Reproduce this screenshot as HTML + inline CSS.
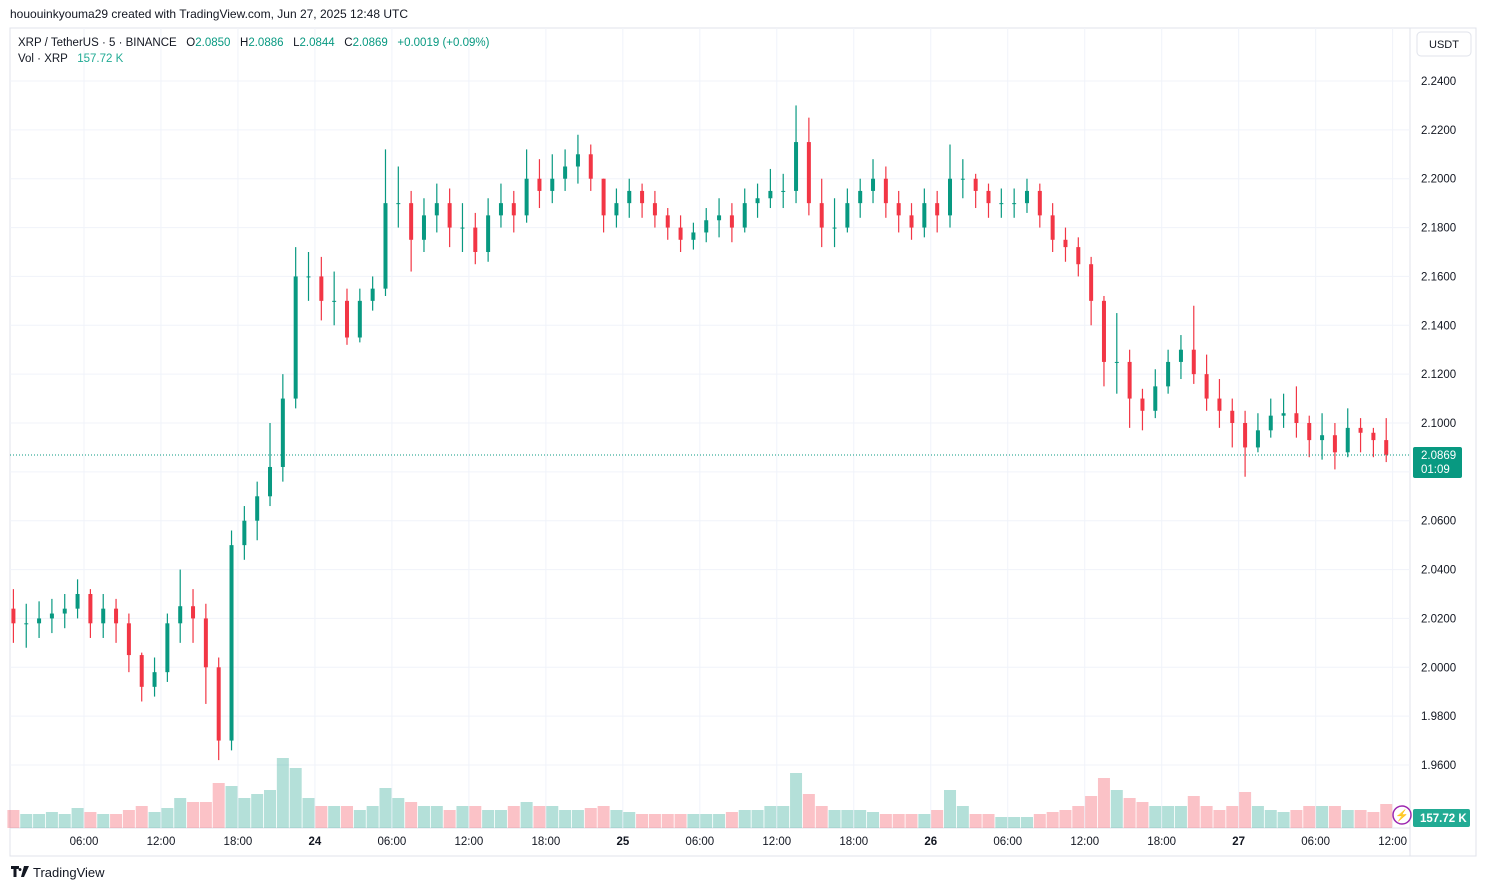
<!DOCTYPE html>
<html><head><meta charset="utf-8">
<style>
body{margin:0;background:#fff;width:1486px;height:890px;overflow:hidden;font-family:"Liberation Sans",sans-serif;}
svg text{font-family:"Liberation Sans",sans-serif;white-space:pre;}
</style></head>
<body>
<svg id="chart" width="1486" height="890" xmlns="http://www.w3.org/2000/svg">
<text x="10" y="18" font-size="12" fill="#131722">hououinkyouma29 created with TradingView.com, Jun 27, 2025 12:48 UTC</text>
<rect x="10" y="28" width="1466" height="828" fill="none" stroke="#e0e3eb"/>
<line x1="1410" y1="28" x2="1410" y2="856" stroke="#e0e3eb"/>
<line x1="10" y1="828" x2="1410" y2="828" stroke="#e0e3eb"/>
<g id="grid"></g><g id="vol"></g><g id="candles"></g><g id="axes"></g>
<text x="18" y="46" font-size="11.5" fill="#131722" xml:space="preserve">XRP / TetherUS · 5 · BINANCE   O<tspan fill="#089981">2.0850</tspan>   H<tspan fill="#089981">2.0886</tspan>   L<tspan fill="#089981">2.0844</tspan>   C<tspan fill="#089981">2.0869</tspan>   <tspan fill="#089981">+0.0019 (+0.09%)</tspan></text>
<text x="18" y="62" font-size="11.5" fill="#131722" xml:space="preserve">Vol · XRP   <tspan fill="#22ab94">157.72 K</tspan></text>
<rect x="1417" y="32" width="54" height="24" rx="4" fill="#fff" stroke="#e0e3eb"/>
<text x="1444" y="48" font-size="11" text-anchor="middle" fill="#131722">USDT</text>
<g>
<path d="M11 866h8v3h-2.5v8h-3v-8H11z M20 868a1.5 1.5 0 1 0 0.01 0z M24 866h5l-5 11h-3z" fill="#131722"/>
</g>
<text x="33" y="877" font-size="13" fill="#131722">TradingView</text>
</svg>
<script>
const openStart = 2.024;
const closes=[2.018,2.018,2.020,2.022,2.024,2.030,2.018,2.024,2.018,2.005,1.992,1.998,2.018,2.025,2.020,2.000,1.970,2.050,2.060,2.070,2.082,2.110,2.160,2.160,2.150,2.150,2.135,2.150,2.155,2.190,2.190,2.175,2.185,2.190,2.180,2.180,2.170,2.185,2.190,2.185,2.200,2.195,2.200,2.205,2.210,2.200,2.185,2.190,2.195,2.190,2.185,2.180,2.175,2.178,2.183,2.185,2.180,2.190,2.192,2.195,2.195,2.215,2.190,2.180,2.180,2.190,2.195,2.200,2.190,2.185,2.180,2.190,2.185,2.200,2.200,2.195,2.190,2.190,2.190,2.195,2.185,2.175,2.172,2.165,2.150,2.125,2.125,2.110,2.105,2.115,2.125,2.130,2.120,2.110,2.105,2.100,2.090,2.097,2.103,2.104,2.100,2.093,2.095,2.088,2.098,2.096,2.093,2.087];
const highs=[2.032,2.026,2.027,2.028,2.030,2.036,2.032,2.030,2.028,2.022,2.006,2.004,2.022,2.040,2.032,2.026,2.004,2.056,2.066,2.076,2.100,2.120,2.172,2.170,2.168,2.162,2.155,2.155,2.160,2.212,2.205,2.195,2.192,2.198,2.196,2.190,2.186,2.192,2.198,2.195,2.212,2.208,2.210,2.212,2.218,2.214,2.200,2.196,2.200,2.198,2.195,2.188,2.185,2.182,2.188,2.192,2.190,2.196,2.198,2.204,2.202,2.230,2.225,2.200,2.192,2.196,2.200,2.208,2.205,2.195,2.190,2.196,2.195,2.214,2.208,2.202,2.198,2.196,2.196,2.200,2.198,2.190,2.180,2.176,2.168,2.152,2.145,2.130,2.114,2.122,2.130,2.136,2.148,2.128,2.118,2.110,2.105,2.104,2.110,2.112,2.115,2.103,2.104,2.100,2.106,2.102,2.098,2.102];
const lows=[2.010,2.008,2.012,2.014,2.016,2.020,2.012,2.012,2.010,1.998,1.986,1.988,1.994,2.010,2.010,1.985,1.962,1.966,2.044,2.052,2.066,2.076,2.106,2.150,2.142,2.140,2.132,2.133,2.146,2.152,2.180,2.162,2.170,2.178,2.172,2.170,2.165,2.166,2.180,2.178,2.182,2.188,2.190,2.195,2.198,2.195,2.178,2.180,2.184,2.184,2.180,2.175,2.170,2.171,2.174,2.176,2.174,2.178,2.184,2.188,2.188,2.190,2.185,2.172,2.172,2.178,2.184,2.190,2.184,2.178,2.175,2.176,2.178,2.180,2.192,2.188,2.184,2.184,2.184,2.186,2.180,2.170,2.166,2.160,2.140,2.115,2.112,2.098,2.097,2.102,2.112,2.118,2.116,2.105,2.098,2.090,2.078,2.088,2.094,2.098,2.094,2.086,2.085,2.081,2.086,2.088,2.086,2.084];
const volumes=[18,14,14,16,14,20,16,14,14,18,22,16,20,30,26,26,45,42,30,34,38,70,60,30,22,22,22,18,22,40,30,26,22,22,18,22,22,18,18,22,26,22,22,18,18,20,22,18,16,14,14,14,14,14,14,14,16,18,18,22,22,55,34,22,18,18,18,16,14,14,14,14,18,38,22,14,14,11,11,11,14,16,18,22,32,50,38,30,26,22,22,22,32,22,18,22,36,22,18,16,18,22,22,22,18,18,16,24];
const priceTicks=[2.24,2.22,2.20,2.18,2.16,2.14,2.12,2.10,2.08,2.06,2.04,2.02,2.00,1.98,1.96];
const timeLabels=["06:00","12:00","18:00","24","06:00","12:00","18:00","25","06:00","12:00","18:00","26","06:00","12:00","18:00","27","06:00","12:00"];
const timeHours=[6,12,18,24,30,36,42,48,54,60,66,72,78,84,90,96,102,108];
const lastPrice=2.0869;

const NS="http://www.w3.org/2000/svg";
function yP(p){return 81+(2.24-p)/0.02*48.857;}
function xH(h){return 7+h*12.83;}
function yV(v){return 828-v*1.0;}
function mk(parent,tag,attrs){const e=document.createElementNS(NS,tag);for(const k in attrs)e.setAttribute(k,attrs[k]);document.getElementById(parent).appendChild(e);return e;}

priceTicks.forEach((p,i)=>{
  const l=mk('grid','line',{x1:10,x2:1410,y1:yP(p),y2:yP(p),stroke:'#f0f3fa'});
  
  
  const t=mk('axes','text',{x:1421,y:yP(p)+4,'font-size':11.5,fill:'#131722'});
  t.textContent=p.toFixed(4);
  
  
});
timeHours.forEach((h,i)=>{
  const l=mk('grid','line',{x1:xH(h),x2:xH(h),y1:28,y2:828,stroke:'#f0f3fa'});
  
  
  const bold=timeLabels[i].indexOf(':')<0;
  const t=mk('axes','text',{x:xH(h),y:845,'font-size':11.5,'text-anchor':'middle',fill:'#131722','font-weight':bold?'bold':'normal'});
  t.textContent=timeLabels[i];
  
  
});
let prev=openStart;
closes.forEach((c,i)=>{
  const o=prev; prev=c;
  const up=c>=o; const col=up?'#089981':'#F23645';
  const cx=xH(i+0.5);
  const v=mk('vol','rect',{x:cx-6,y:yV(volumes[i]||0),width:12,height:828-yV(volumes[i]||0),fill:up?'rgba(8,153,129,0.3)':'rgba(242,54,69,0.3)'});
  
  
  const w=mk('candles','line',{x1:cx,x2:cx,y1:yP(highs[i]),y2:yP(lows[i]),stroke:col,'stroke-width':1.2});
  
  
  const top=yP(Math.max(o,c)),bot=yP(Math.min(o,c));
  const b=mk('candles','rect',{x:cx-2,y:top,width:4,height:Math.max(1,bot-top),fill:col});
  
  
});
const ly=yP(lastPrice);
const pl=mk('axes','line',{x1:10,x2:1410,y1:ly,y2:ly,stroke:'#089981','stroke-dasharray':'1 2'});


const pb=mk('axes','rect',{x:1413,y:ly-8,width:49,height:31,fill:'#089981',rx:2});


const pt=mk('axes','text',{x:1421,y:ly+4,'font-size':11.5,fill:'#fff'});pt.textContent=lastPrice.toFixed(4);


const ct=mk('axes','text',{x:1421,y:ly+18,'font-size':11.5,fill:'#fff'});ct.textContent='01:09';


const vb=mk('axes','rect',{x:1413,y:809,width:57,height:18,fill:'#22ab94',rx:2});


const vt=mk('axes','text',{x:1420,y:822,'font-size':11.5,'font-weight':'bold',fill:'#fff'});vt.textContent='157.72 K';


const bolt=mk('axes','circle',{cx:1402,cy:815,r:9,fill:'#fff',stroke:'#9c27b0','stroke-width':1.5});


const bt=mk('axes','text',{x:1402,y:819,'font-size':11,'text-anchor':'middle',fill:'#9c27b0'});bt.textContent='⚡';


</script>
</body></html>
